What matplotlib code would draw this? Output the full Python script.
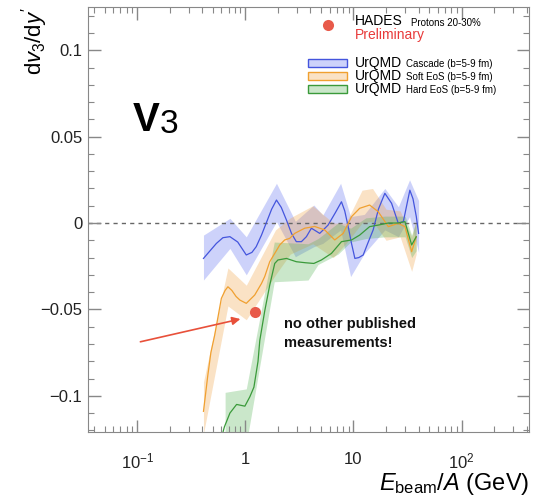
import numpy as np
import matplotlib.pyplot as plt
from matplotlib.patches import Rectangle

plt.rcParams['font.family'] = ['Liberation Sans', 'DejaVu Sans']
plt.rcParams['mathtext.fontset'] = 'custom'
plt.rcParams['mathtext.rm'] = 'Liberation Sans'
plt.rcParams['mathtext.it'] = 'Liberation Sans:italic'
plt.rcParams['mathtext.bf'] = 'Liberation Sans:bold'

# UrQMD cascade (line + band corners)
casc_e = [0.41, 0.48, 0.54, 0.62, 0.72, 0.85, 1.02, 1.15, 1.26, 1.41, 1.56, 1.75, 1.94, 2.15, 2.4,
          2.67, 2.96, 3.3, 3.67, 4.08, 4.87, 5.82, 6.8, 7.74, 8.3, 8.93, 9.6, 10.3, 11.2, 12.3,
          13.5, 15.2, 17.0, 19.5, 22.5, 25.9, 28.9, 31.0, 33.2, 35.5, 38.1, 40.0]
casc_v = [-0.0205, -0.0155, -0.0118, -0.0085, -0.0079, -0.011, -0.0185, -0.017, -0.0137, -0.007,
          0.0, 0.008, 0.0133, 0.009, 0.0017, -0.006, -0.0108, -0.0108, -0.0079, -0.003, -0.006,
          -0.0012, 0.006, 0.0123, 0.007, -0.0021, -0.012, -0.0205, -0.020, -0.0185, -0.012, -0.004,
          0.008, 0.0172, 0.0114, 0.0, 0.0008, 0.010, 0.019, 0.014, 0.0037, -0.006]
casc_band_e = [0.41, 0.72, 1.02, 1.94, 2.9, 4.3, 5.2, 7.6, 9.4, 12.6, 19.5, 26, 33, 40]
casc_hi = [-0.007, 0.0027, -0.008, 0.023, 0.001, 0.0104, 0.0046, 0.023, 0.0037, 0.005, 0.020, 0.0094, 0.025, 0.013]
casc_lo = [-0.033, -0.0147, -0.030, 0.0008, -0.0195, -0.0137, -0.0118, -0.004, -0.031, -0.0176, -0.004, -0.0079, 0.0037, -0.017]

# UrQMD soft EoS
soft_e = [0.41, 0.45, 0.48, 0.52, 0.56, 0.60, 0.65, 0.69, 0.75, 0.82, 0.89, 1.02, 1.22, 1.41, 1.51,
          1.68, 1.87, 2.08, 2.31, 2.57, 2.86, 3.54, 4.38, 5.42, 6.71, 8.03, 9.6, 11.4, 14.1, 16.9,
          21.0, 25.9, 29.9, 34.5, 38.0]
soft_v = [-0.109, -0.088, -0.075, -0.065, -0.054, -0.0436, -0.039, -0.0369, -0.039, -0.0425,
          -0.0446, -0.0465, -0.0417, -0.035, -0.031, -0.0224, -0.0176, -0.0127, -0.0098, -0.0089,
          -0.006, -0.003, -0.002, -0.004, -0.0098, -0.006, 0.0037, 0.0085, 0.0104, 0.0066, -0.0021,
          -0.0002, -0.0021, -0.0166, -0.008]
soft_band_e = [0.41, 0.69, 1.02, 1.9, 2.6, 4.2, 6.5, 8.5, 12, 15, 20, 27, 34.5, 38]
soft_hi = [-0.092, -0.026, -0.036, -0.004, 0.003, 0.010, 0.0, 0.0, 0.019, 0.020, 0.008, 0.007, -0.008, 0.002]
soft_lo = [-0.122, -0.048, -0.056, -0.030, -0.018, -0.012, -0.020, -0.012, 0.0, 0.001, -0.010, -0.008, -0.028, -0.018]

# UrQMD hard EoS
hard_e = [0.58, 0.64, 0.72, 0.83, 0.99, 1.10, 1.20, 1.31, 1.36, 1.51, 1.68, 1.87, 2.0, 2.4, 2.96,
          3.6, 4.3, 5.05, 6.25, 7.74, 9.6, 11.4, 14.1, 16.9, 21.0, 25.9, 29.9, 34.5, 38.0]
hard_v = [-0.128, -0.118, -0.110, -0.105, -0.106, -0.1006, -0.095, -0.080, -0.068, -0.051, -0.036,
          -0.0234, -0.0214, -0.0205, -0.0224, -0.023, -0.0234, -0.0214, -0.0176, -0.0108, -0.0098,
          -0.007, -0.0021, -0.0012, 0.0, 0.0, 0.0008, -0.0127, -0.008]
hard_band_e = [0.65, 1.02, 1.85, 3.8, 4.7, 7.2, 9.4, 13, 19.5, 30, 34.5, 38]
hard_hi = [-0.098, -0.096, -0.011, -0.012, -0.009, 0.0, -0.003, 0.003, 0.004, 0.004, -0.007, 0.001]
hard_lo = [-0.135, -0.128, -0.034, -0.033, -0.024, -0.018, -0.011, -0.009, -0.008, -0.008, -0.020, -0.016]

# HADES preliminary point
hades_e = [1.23]
hades_v = [-0.0514]

fig = plt.figure(figsize=(5.36, 5.03), dpi=100)
ax = fig.add_axes([0.164, 0.141, 0.823, 0.845])

bands = [(casc_band_e, casc_lo, casc_hi, '#5a6cf0'),
         (soft_band_e, soft_lo, soft_hi, '#f0a040'),
         (hard_band_e, hard_lo, hard_hi, '#50b050')]
for be, lo, hi, c in bands:
    ax.fill_between(be, lo, hi, color=c, alpha=0.3, lw=0)

ax.axhline(0, color='#666666', ls=(0, (3, 3)), lw=1.0, zorder=1)

ax.plot(casc_e, casc_v, color='#4455dd', lw=0.9)
ax.plot(soft_e, soft_v, color='#f0a030', lw=0.9)
ax.plot(hard_e, hard_v, color='#3a9a3a', lw=0.9)

ax.plot(hades_e, hades_v, 'o', color='#e85a4a', ms=8, mec='none', zorder=5)

ax.annotate('', xy=(0.953, -0.0552), xytext=(0.101, -0.0691),
            arrowprops=dict(arrowstyle='-|>', color='#e8503a', lw=1.2, mutation_scale=12))

ax.text(2.3, -0.0545, 'no other published\nmeasurements!', fontsize=10.5, fontweight='bold',
        va='top', ha='left', linespacing=1.45, color='#111111')
ax.text(0.090, 0.0597, 'V', fontsize=29, fontweight='heavy', va='center', ha='left')
ax.text(0.163, 0.0568, '3', fontsize=24, va='center', ha='left')

ax.set_xscale('log')
ax.set_xlim(0.035, 420)
ax.set_ylim(-0.121, 0.125)
ax.set_xticks([0.1, 1, 10, 100])
ax.set_xticklabels([r'$10^{-1}$', '1', '10', r'$10^{2}$'])
ax.set_yticks([-0.1, -0.05, 0, 0.05, 0.1])
ax.set_yticklabels(['\u22120.1', '\u22120.05', '0', '0.05', '0.1'])
ax.set_yticks(np.arange(-0.12, 0.125, 0.01), minor=True)
ax.tick_params(which='both', direction='in', top=True, right=True, color='#888888',
               labelsize=12, labelcolor='#222222')
ax.tick_params(which='major', length=9, width=1)
ax.tick_params(which='minor', length=4.5, width=0.8)
ax.tick_params(axis='x', pad=14)
ax.tick_params(axis='y', pad=4)
for s in ax.spines.values():
    s.set_color('#888888')

ax.text(-0.122, 1.0, r"d$v_3$/d$y'$", transform=ax.transAxes, rotation=90,
        ha='center', va='top', fontsize=16)
ax.text(1.0, -0.092, r'$E_{\mathrm{beam}}/A$ (GeV)', transform=ax.transAxes,
        ha='right', va='top', fontsize=17)

# legend
ax.plot([0.544], [0.958], 'o', color='#e85a4a', ms=8, mec='none', transform=ax.transAxes, clip_on=False)
ax.text(0.605, 0.966, 'HADES', transform=ax.transAxes, fontsize=10, va='center')
ax.text(0.733, 0.962, 'Protons 20-30%', transform=ax.transAxes, fontsize=7, va='center')
ax.text(0.605, 0.934, 'Preliminary', transform=ax.transAxes, fontsize=10, va='center', color='#e83a3a')
leg_rows = [('Cascade (b=5-9 fm)', '#5a6cf0', '#4455dd'),
            ('Soft EoS (b=5-9 fm)', '#f0a040', '#f0a030'),
            ('Hard EoS (b=5-9 fm)', '#50b050', '#3a9a3a')]
for i, (lab, fc, ec) in enumerate(leg_rows):
    y = 0.868 - i * 0.0305
    ax.add_patch(Rectangle((0.499, y - 0.0095), 0.088, 0.019, transform=ax.transAxes,
                           facecolor=fc, alpha=0.3, edgecolor='none', clip_on=False))
    ax.add_patch(Rectangle((0.499, y - 0.0095), 0.088, 0.019, transform=ax.transAxes,
                           facecolor='none', edgecolor=ec, lw=1.0, clip_on=False))
    ax.text(0.605, y, 'UrQMD', transform=ax.transAxes, fontsize=10, va='center')
    ax.text(0.721, y - 0.002, lab, transform=ax.transAxes, fontsize=7, va='center')

fig.savefig('out.png', dpi=100)
